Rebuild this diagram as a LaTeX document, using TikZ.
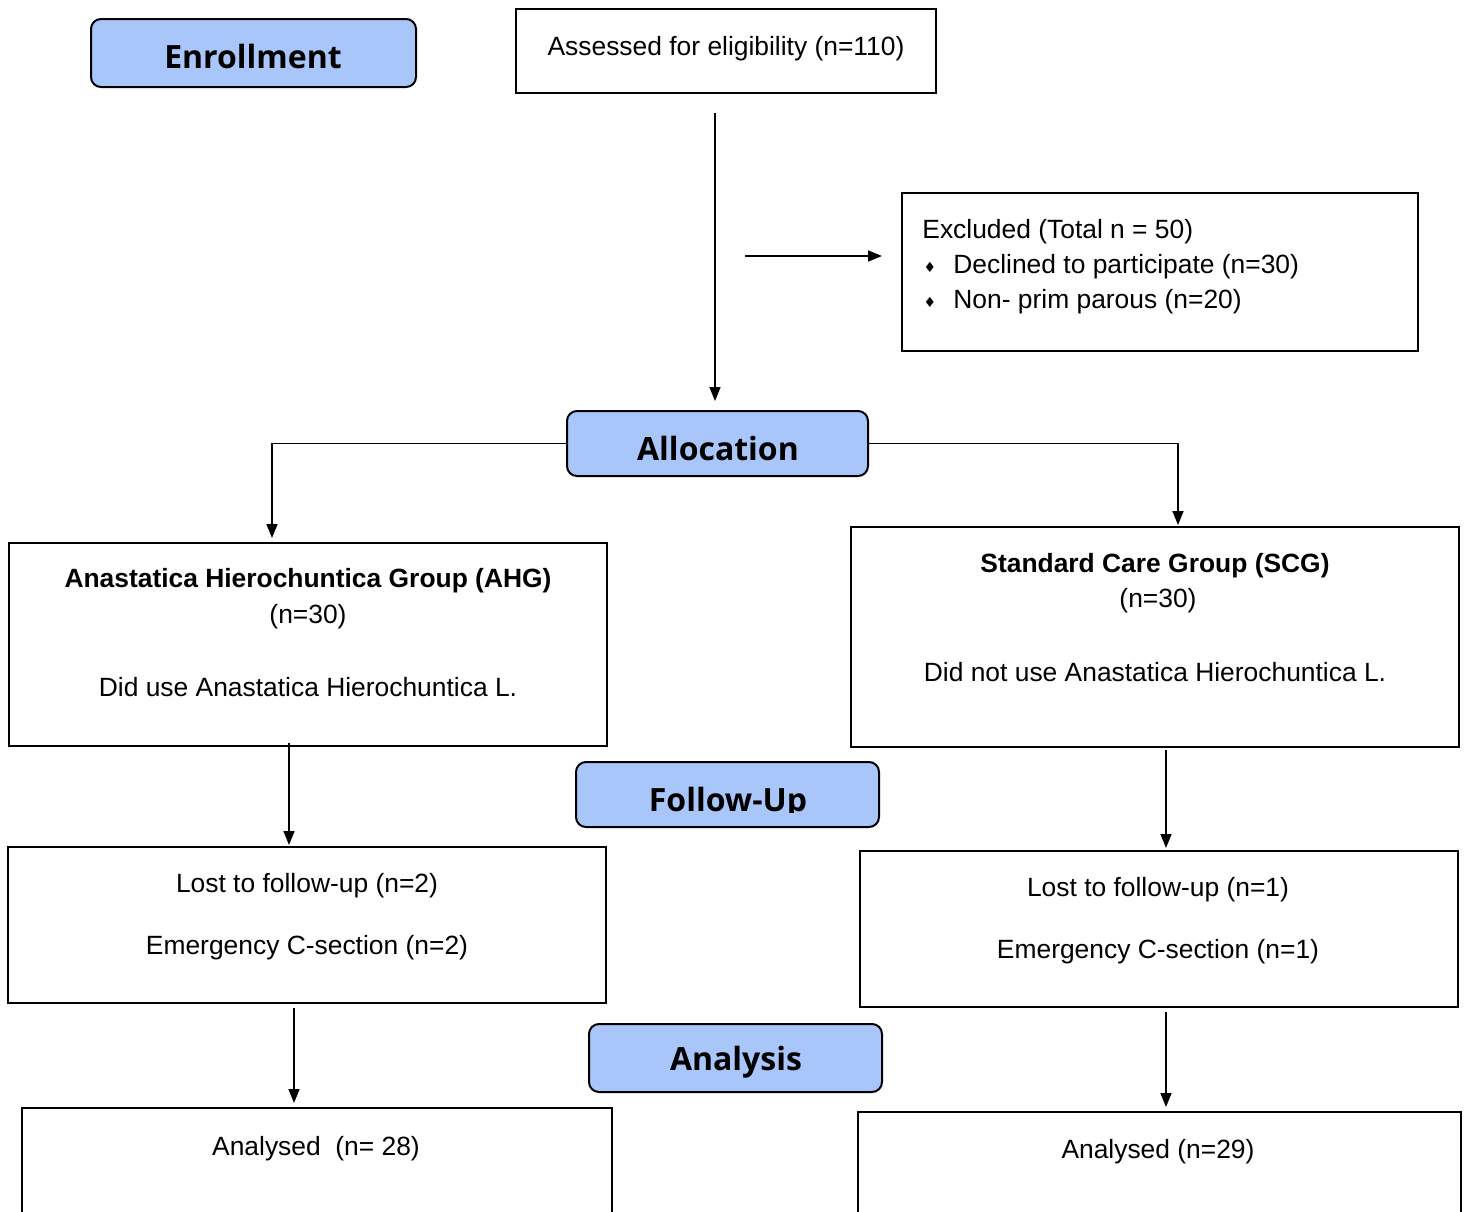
\documentclass[tikz,border=0pt]{standalone}
\usepackage{fontspec}
\setmainfont{Liberation Sans}
\newfontfamily\hdr{Open Sans}
\newfontfamily\djv{DejaVu Sans}
\usetikzlibrary{fit,arrows.meta}
\definecolor{hdrblue}{RGB}{169,198,250}
\begin{document}
\begin{tikzpicture}[x=0.5pt,y=-0.5pt,
  box/.style={draw,line width=1pt,inner sep=0pt},
  hdrbox/.style={draw,line width=1pt,fill=hdrblue,rounded corners=5pt,inner sep=0pt},
  hdrtxt/.style={inner sep=0pt,font=\hdr\bfseries\fontsize{16}{19}\selectfont},
  txt/.style={inner sep=0pt,yshift=-1.5pt,font=\fontsize{13.2}{16}\selectfont},
  btxt/.style={inner sep=0pt,yshift=-1.5pt,font=\bfseries\fontsize{13.2}{16}\selectfont},
  bul/.style={inner sep=0pt,font=\djv\fontsize{7}{8}\selectfont},
  arr/.style={line width=0.8pt,-{Triangle[length=7pt,width=5.5pt]}}]
\useasboundingbox (0,0) rectangle (1468,1211);
\clip (0,0) rectangle (1468,1211);
% boxes
\node[hdrbox, fit={(91,19)(416,87)}] (enr) {};
\node[hdrtxt] (enrt) at (253,56) {Enrollment};
\node[box, fit={(516,9)(936,93)}] (assess) {};
\node[txt] (assesst) at (726,46) {Assessed for eligibility (n=110)};
\node[box, fit={(902,193)(1418,351)}] (excl) {};
\node[txt, anchor=west] (exclt) at (922,229) {Excluded (Total n = 50)};
\node[bul] (b1) at (930,267) {♦};
\node[txt, anchor=west] (ex1) at (953,264) {Declined to participate (n=30)};
\node[bul] (b2) at (930,302) {♦};
\node[txt, anchor=west] (ex2) at (953,299) {Non- prim parous (n=20)};
\node[hdrbox, fit={(567,411)(868,476)}] (alloc) {};
\node[hdrtxt] (alloct) at (718,448) {Allocation};
\node[box, fit={(9,543)(607,746)}] (ahg) {};
\node[btxt] (ahg1) at (308,578) {Anastatica Hierochuntica Group (AHG)};
\node[txt] (ahg2) at (308,614) {(n=30)};
\node[txt] (ahg3) at (308,684) {Did use Anastatica Hierochuntica L.};
\node[box, fit={(851,527)(1459,747)}] (scg) {};
\node[btxt] (scg1) at (1155,563) {Standard Care Group (SCG)};
\node[txt] (scg2) at (1158,598) {(n=30)};
\node[txt] (scg3) at (1155,669) {Did not use Anastatica Hierochuntica L.};
\node[hdrbox, fit={(576,762)(879,827)}] (fol) {};
\begin{scope}
\clip (576,762) rectangle (879,812);
\node[hdrtxt] (folt) at (728,803) {Follow-Up};
\end{scope}
\node[box, fit={(8,847)(606,1003)}] (lostl) {};
\node[txt] (lostl1) at (307,883) {Lost to follow-up (n=2)};
\node[txt] (lostl2) at (307,945) {Emergency C-section (n=2)};
\node[box, fit={(860,851)(1458,1007)}] (lostr) {};
\node[txt] (lostr1) at (1158,887) {Lost to follow-up (n=1)};
\node[txt] (lostr2) at (1158,949) {Emergency C-section (n=1)};
\node[hdrbox, fit={(589,1024)(882,1092)}] (ana) {};
\node[hdrtxt] (anat) at (736,1062) {Analysis};
\node[box, fit={(22,1108)(612,1280)}] (anl) {};
\node[txt] (anlt) at (316,1146) {Analysed\ \ (n= 28)};
\node[box, fit={(858,1112)(1461,1280)}] (anr) {};
\node[txt] (anrt) at (1158,1149) {Analysed (n=29)};
% connectors
\coordinate (s1) at (715,113);
\draw[arr, shorten >=4.5pt] (s1) -- (s1 |- alloc.north);
\coordinate (s2) at (745,256);
\draw[arr, shorten >=9.5pt] (s2) -- (s2 -| excl.west);
\coordinate (t1) at (272,538);
\draw[arr] (alloc.west) -| (t1);
\coordinate (t2) at (1178,525);
\draw[arr] (alloc.east) -| (t2);
\coordinate (s3) at (289,743);
\draw[arr, shorten >=0.5pt] (s3) -- (s3 |- lostl.north);
\coordinate (s4) at (1166,750);
\draw[arr, shorten >=1pt] (s4) -- (s4 |- lostr.north);
\coordinate (s5) at (294,1008);
\draw[arr, shorten >=2pt] (s5) -- (s5 |- anl.north);
\coordinate (s6) at (1166,1012);
\draw[arr, shorten >=2pt] (s6) -- (s6 |- anr.north);
\end{tikzpicture}
\end{document}
